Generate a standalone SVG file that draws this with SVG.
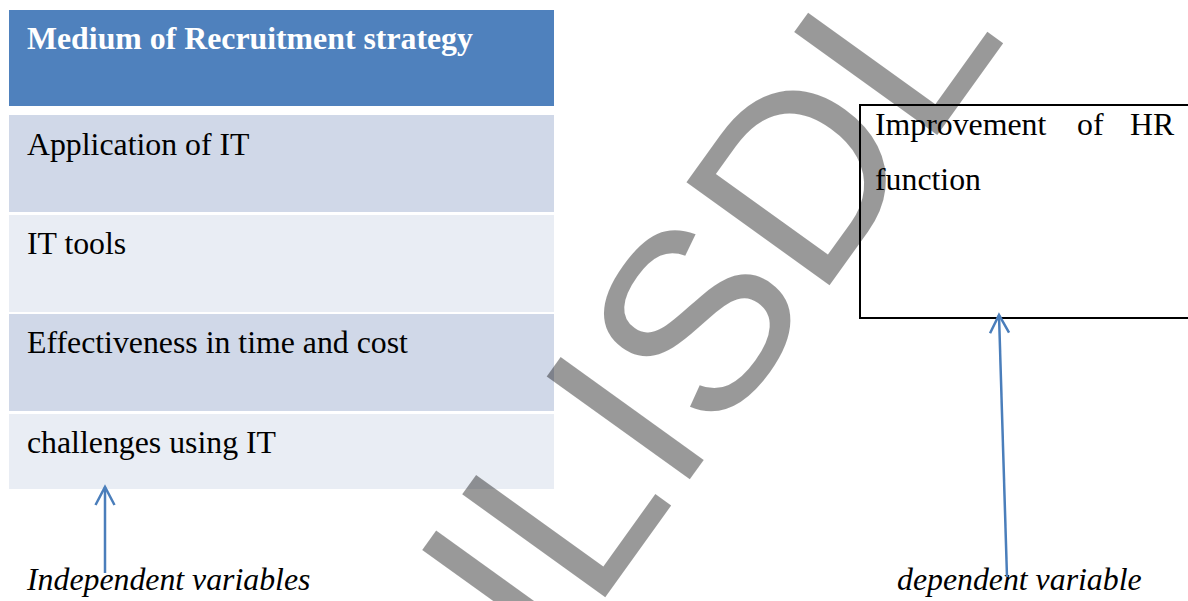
<svg xmlns="http://www.w3.org/2000/svg" width="1188" height="601" viewBox="0 0 1188 601">
  <style>
    .hd { fill: #4F81BD; }
    .odd { fill: #D0D8E8; }
    .even { fill: #E9EDF4; }
    .t { font-family: "Liberation Serif", "Times New Roman", serif; font-size: 31.8px; fill: #000; }
    .th { font-family: "Liberation Serif", "Times New Roman", serif; font-size: 31.8px; font-weight: bold; fill: #FFFFFF; }
    .ti { font-family: "Liberation Serif", "Times New Roman", serif; font-size: 31.8px; font-style: italic; fill: #000; }
    .box { fill: #FFFFFF; stroke: #000; stroke-width: 2; }
    .arrow { fill: none; stroke: #4A7EBB; stroke-width: 2.5; marker-end: url(#chev); }
    .wm { font-family: "Liberation Sans", Arial, sans-serif; font-size: 256px; fill: #000; fill-opacity: 0.4; }
  </style>
  <defs>
    <marker id="chev" markerUnits="userSpaceOnUse" viewBox="-22 -12 26 24" refX="0" refY="0" markerWidth="26" markerHeight="24" orient="auto" overflow="visible">
      <path d="M-18,-9.5 L0,0 L-18,9.5" fill="none" stroke="#4A7EBB" stroke-width="2.5"/>
    </marker>
  </defs>

  <rect width="1188" height="601" fill="#FFFFFF"/>

  <!-- left table: header plus four variable rows -->
  <g id="table-header">
    <rect class="hd" x="9" y="10" width="545" height="96"/>
    <text class="th" x="27" y="49">Medium of Recruitment strategy</text>
  </g>
  <g id="row-application">
    <rect class="odd" x="9" y="115" width="545" height="97"/>
    <text class="t" x="27" y="155">Application of IT</text>
  </g>
  <g id="row-tools">
    <rect class="even" x="9" y="215" width="545" height="97"/>
    <text class="t" x="27" y="254">IT tools</text>
  </g>
  <g id="row-effectiveness">
    <rect class="odd" x="9" y="314" width="545" height="97"/>
    <text class="t" x="27" y="353">Effectiveness in time and cost</text>
  </g>
  <g id="row-challenges">
    <rect class="even" x="9" y="414" width="545" height="75"/>
    <text class="t" x="27" y="453">challenges using IT</text>
  </g>

  <!-- outcome box, open past the right edge -->
  <g id="hr-function">
    <rect class="box" x="860" y="105" width="340" height="213"/>
    <text class="t" y="135"><tspan x="875">Improvement</tspan><tspan x="1077">of</tspan><tspan x="1130">HR</tspan></text>
    <text class="t" x="875" y="190">function</text>
  </g>

  <!-- labels -->
  <g id="label-independent">
    <text class="ti" x="27" y="590">Independent variables</text>
  </g>
  <g id="label-dependent">
    <text class="ti" x="897" y="590">dependent variable</text>
  </g>

  <!-- connectors -->
  <g id="connectors">
    <line class="arrow" x1="105" y1="573" x2="105" y2="487"/>
    <line class="arrow" x1="1007" y1="577" x2="999" y2="315"/>
  </g>

  <!-- diagonal watermark -->
  <g id="watermark">
    <text class="wm" transform="translate(551.5,672) rotate(-54.3)" x="0" y="0">ILISDL</text>
  </g>
</svg>
